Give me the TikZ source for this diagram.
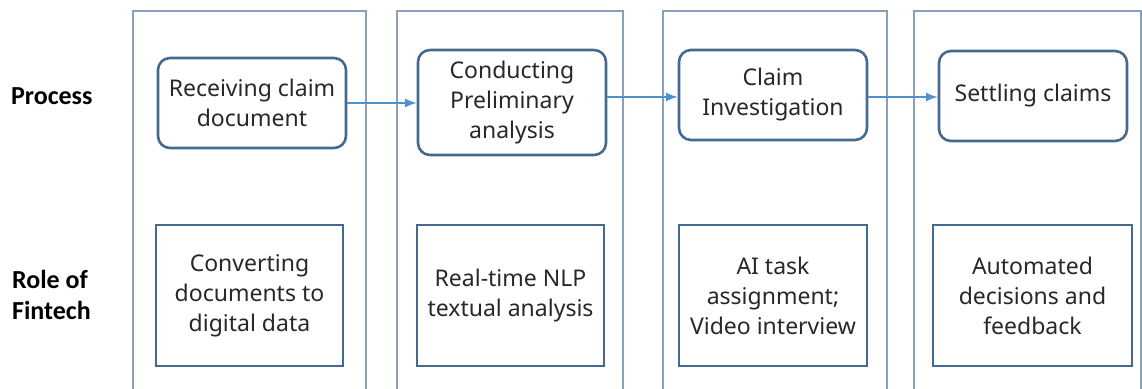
\documentclass[tikz,border=0pt]{standalone}
\usepackage{fontspec}
\setmainfont{Noto Sans}
\newfontfamily\labelfont{Carlito}
\usepackage{tikz}
\usetikzlibrary{positioning,calc}
\definecolor{laneline}{RGB}{140,160,185}
\definecolor{boxline}{RGB}{70,105,145}
\definecolor{flowblue}{RGB}{80,145,205}
\definecolor{inktext}{RGB}{40,40,40}

\begin{document}
\begin{tikzpicture}[x=0.5pt,y=-0.5pt,
    every node/.style={text=inktext,font=\fontsize{11.5}{15}\selectfont,align=center},
    lane/.style={draw=laneline,line width=0.6pt},
    procbox/.style={draw=boxline,line width=1.3pt,rounded corners=6pt,minimum width=94pt,minimum height=45pt,inner sep=0pt},
    rolebox/.style={draw=boxline,line width=1.3pt,minimum width=93.5pt,minimum height=70.5pt,inner sep=0pt},
    rowlabel/.style={anchor=west,align=left,font=\labelfont\bfseries\fontsize{13}{15.5}\selectfont,text=black},
    flow/.style={draw=flowblue,line width=1pt,->,>=latex}]
    \useasboundingbox (0,0) rectangle (1142,389);
    \fill [white] (0,0) rectangle (1142,389);

    % columns
    \draw [lane] (133,400) -- (133,11) -- (366,11) -- (366,400);
    \draw [lane] (397,400) -- (397,11) -- (623,11) -- (623,400);
    \draw [lane] (663,400) -- (663,11) -- (887,11) -- (887,400);
    \draw [lane] (914,400) -- (914,11) -- (1141,11) -- (1141,400);

    % row labels
    \node [rowlabel] (process) at (4,96) {Process};
    \node [rowlabel] (role) at (5,295) {Role of\\Fintech};

    % process steps
    \node [procbox] (receive) at (252,103) {Receiving claim\\document};
    \node [procbox,minimum height=52.5pt] (prelim) at (512,102.5) {Conducting\\Preliminary\\analysis};
    \node [procbox] (investigate) at (773,95) {Claim\\Investigation};
    \node [procbox] (settle) at (1033,96) {Settling claims};

    % role of fintech
    \node [rolebox] (convert) at (249.5,295.5) {Converting\\documents to\\digital data};
    \node [rolebox] (nlp) at (510.5,295.5) {Real-time NLP\\textual analysis};
    \node [rolebox,minimum width=94pt] (aitask) at (773,295.5) {AI task\\assignment;\\Video interview};
    \node [rolebox,minimum width=99.5pt] (auto) at (1032.5,295.5) {Automated\\decisions and\\feedback};

    \draw [flow] (receive.east) -- (receive.east -| prelim.west);
    \draw [flow] (prelim.east |- investigate.east) ++(0,2) coordinate (p2out) (p2out) -- (p2out -| investigate.west);
    \draw [flow] (investigate.east) ++(0,2) coordinate (p3out) (p3out) -- (p3out -| settle.west);
\end{tikzpicture}
\end{document}
